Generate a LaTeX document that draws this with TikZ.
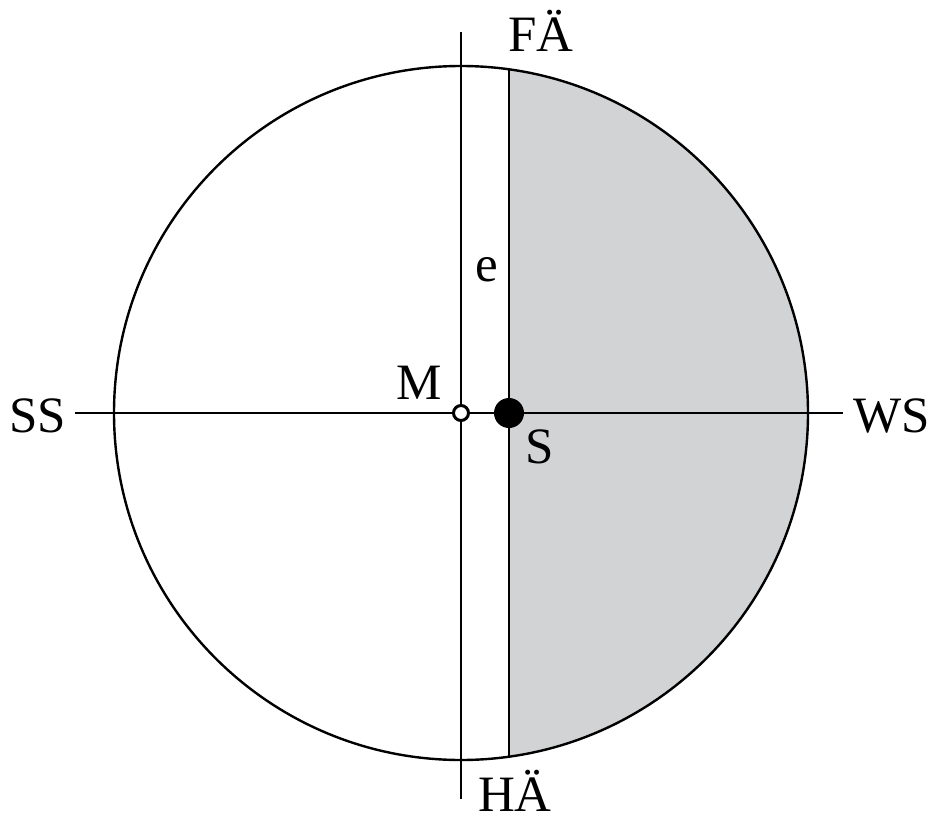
\documentclass[tikz,border=0pt]{standalone}
\usepackage{fontspec}
\setmainfont{Liberation Serif}
\definecolor{greyfill}{RGB}{209,211,212}
\begin{document}
\begin{tikzpicture}[x=1pt,y=-1pt,line width=2pt,
  lbl/.style={font=\fontsize{51}{51}\selectfont,inner sep=0pt,anchor=base},
  dotfill/.style={circle,fill=black,inner sep=0pt,minimum size=30pt},
  dotopen/.style={circle,draw=black,fill=white,line width=3pt,inner sep=0pt,minimum size=15pt}]
\useasboundingbox (0,0) rectangle (936,821);
\coordinate (C) at (461,413);
\begin{scope}
  \clip (C) circle[radius=347pt];
  \fill[greyfill] (509,0) rectangle (900,821);
\end{scope}
\coordinate (ST) at (509,69.3);
\coordinate (SB) at (509,756.7);
\draw (ST) -- (SB);
\coordinate (VT) at (461,32);
\coordinate (VB) at (461,799);
\coordinate (HL) at (75,413);
\coordinate (HR) at (843,413);
\draw (VT) -- (VB);
\draw (HL) -- (HR);
\draw[line width=2.4pt] (C) circle[radius=347pt];
\node[dotfill] (S) at (509,413) {};
\node[dotopen] (M) at (461,413) {};
\node[lbl] (FA) at (541,52) {FÄ};
\node[lbl] (HA) at (515,811) {HÄ};
\node[lbl] (SS) at (37.5,432) {SS};
\node[lbl] (WS) at (892,432) {WS};
\node[lbl] (Ml) at (419,399) {M};
\node[lbl] (Sl) at (540,463) {S};
\node[lbl] (e) at (487,281) {e};
\end{tikzpicture}
\end{document}
